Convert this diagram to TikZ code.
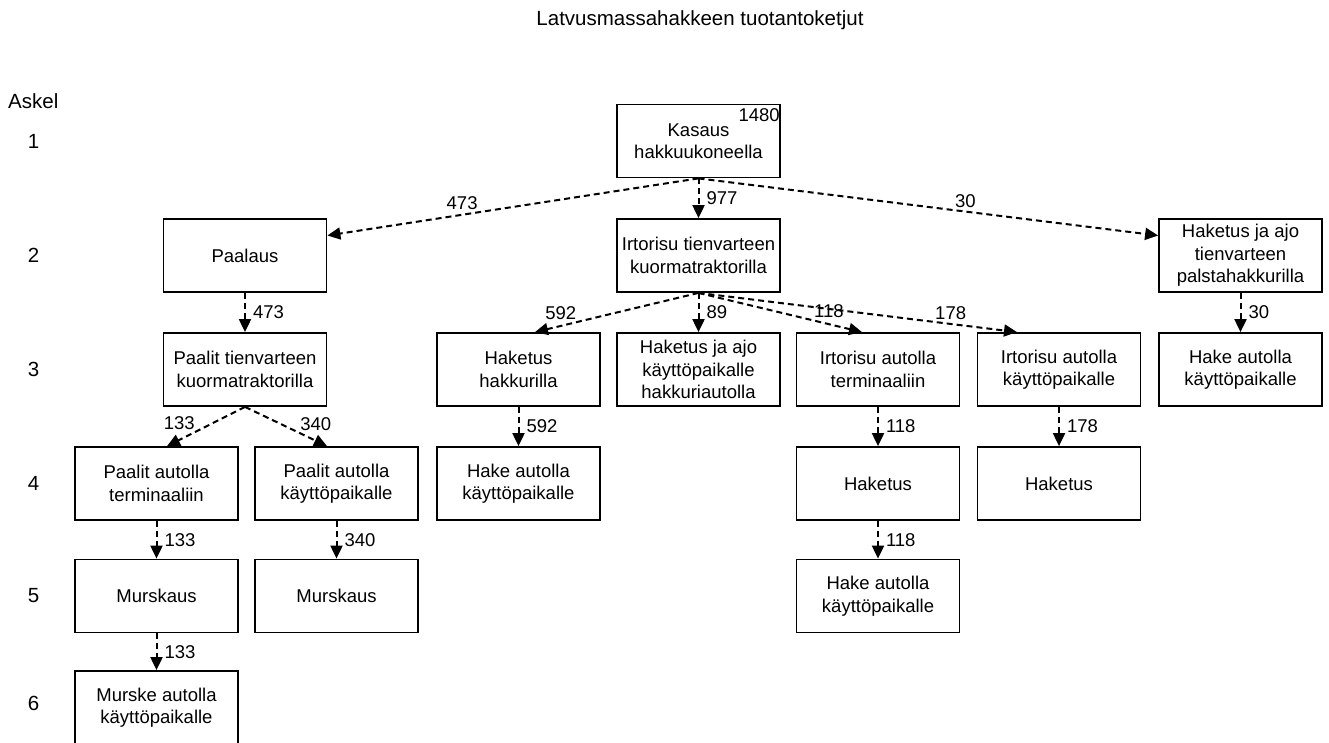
\documentclass[tikz,border=0pt]{standalone}
\usepackage{fontspec}
\setmainfont{Liberation Sans}
\usetikzlibrary{arrows.meta}

\newcommand{\boxfont}{\fontsize{18.5}{22.5}\selectfont}
\newcommand{\headfont}{\fontsize{20.5}{24}\selectfont}

\begin{document}
\begin{tikzpicture}[x=1pt, y=-1pt,
	stage/.style={draw, line width=1.8pt, minimum width=163pt, minimum height=73pt,
		inner sep=0pt, align=center, font=\boxfont},
	flow/.style={line width=2pt, dash pattern=on 6pt off 4pt,
		-{Triangle[width=12pt,length=13pt]}},
	num/.style={font=\boxfont, inner sep=1pt}]

	\useasboundingbox (0,0) rectangle (1329,742);

	% columns
	\def\xa{156.5} \def\xb{245} \def\xc{336.5} \def\xd{518.5}
	\def\xe{698.5} \def\xf{878} \def\xg{1059} \def\xh{1240.5}
	% rows
	\def\ya{141} \def\yb{255.5} \def\yc{369.5}
	\def\yd{483.5} \def\ye{596} \def\yf{707.5}

	% title and steps
	\node[font=\headfont, anchor=base] (title) at (700,25) {Latvusmassahakkeen tuotantoketjut};
	\node[font=\headfont, anchor=base west, inner sep=0pt] (askel) at (8,108) {Askel};
	\node[font=\headfont] (step1) at (33.5,\ya) {1};
	\node[font=\headfont] (step2) at (33.5,\yb) {2};
	\node[font=\headfont] (step3) at (33.5,\yc) {3};
	\node[font=\headfont] (step4) at (33.5,\yd) {4};
	\node[font=\headfont] (step5) at (33.5,\ye) {5};
	\node[font=\headfont] (step6) at (33.5,\yf-4) {6};

	% step 1
	\node[stage] (kasaus) at (\xe,\ya) {Kasaus\\hakkuukoneella};
	\node[num, anchor=north east, inner sep=0pt] (total)
	at ([xshift=-1pt,yshift=-5pt]kasaus.north east) {1480};

	% step 2
	\node[stage] (paalaus) at (\xb,\yb) {Paalaus};
	\node[stage] (irto) at (\xe,\yb) {Irtorisu tienvarteen\\kuormatraktorilla};
	\node[stage] (palsta) at (\xh,\yb) {Haketus ja ajo\\tienvarteen\\palstahakkurilla};

	% step 3
	\node[stage] (paalit) at (\xb,\yc) {Paalit tienvarteen\\kuormatraktorilla};
	\node[stage] (hakkuri) at (\xd,\yc) {Haketus\\hakkurilla};
	\node[stage] (hakkuriauto) at (\xe,\yc) {Haketus ja ajo\\käyttöpaikalle\\hakkuriautolla};
	\node[stage] (irtoterm) at (\xf,\yc) {Irtorisu autolla\\terminaaliin};
	\node[stage] (irtokaytto) at (\xg,\yc) {Irtorisu autolla\\käyttöpaikalle};
	\node[stage] (palstahake) at (\xh,\yc) {Hake autolla\\käyttöpaikalle};

	% step 4
	\node[stage] (paalitterm) at (\xa,\yd) {Paalit autolla\\terminaaliin};
	\node[stage] (paalitkaytto) at (\xc,\yd) {Paalit autolla\\käyttöpaikalle};
	\node[stage] (hakkurihake) at (\xd,\yd) {Hake autolla\\käyttöpaikalle};
	\node[stage] (termhaketus) at (\xf,\yd) {Haketus};
	\node[stage] (kayttohaketus) at (\xg,\yd) {Haketus};

	% step 5
	\node[stage] (murskaus) at (\xa,\ye) {Murskaus};
	\node[stage] (murskauskaytto) at (\xc,\ye) {Murskaus};
	\node[stage] (termhake) at (\xf,\ye) {Hake autolla\\käyttöpaikalle};

	% step 6
	\node[stage] (murske) at (\xa,\yf) {Murske autolla\\käyttöpaikalle};

	% flows 1 -> 2
	\draw[flow] (kasaus.south) -- ([yshift=20pt]paalaus.east)
	node[num, pos=0.59, above left] {473};
	\draw[flow] (kasaus.south) -- (irto.north)
	node[num, midway, right, xshift=6pt] {977};
	\draw[flow] (kasaus.south) -- ([yshift=20pt]palsta.west)
	node[num, pos=0.554, above right] {30};

	% flows 2 -> 3
	\draw[flow] (paalaus.south) -- (paalit.north)
	node[num, midway, right, xshift=6pt] {473};
	\draw[flow] (irto.south) -- ([xshift=16.5pt]hakkuri.north)
	node[num, pos=0.736, above left] {592};
	\draw[flow] (irto.south) -- (hakkuriauto.north)
	node[num, midway, right, xshift=6pt] {89};
	\draw[flow] (irto.south) -- ([xshift=-16pt]irtoterm.north)
	node[num, pos=0.695, above right] {118};
	\draw[flow] (irto.south) -- ([xshift=-42pt]irtokaytto.north)
	node[num, pos=0.737, above right] {178};
	\draw[flow] (palsta.south) -- (palstahake.north)
	node[num, midway, right, xshift=6pt] {30};

	% flows 3 -> 4
	\draw[flow] (paalit.south) -- ([xshift=10.5pt]paalitterm.north)
	node[num, pos=0.62, above left] {133};
	\draw[flow] (paalit.south) -- ([xshift=-9.5pt]paalitkaytto.north)
	node[num, pos=0.65, above right] {340};
	\draw[flow] (hakkuri.south) -- (hakkurihake.north)
	node[num, midway, right, xshift=6pt] {592};
	\draw[flow] (irtoterm.south) -- (termhaketus.north)
	node[num, midway, right, xshift=6pt] {118};
	\draw[flow] (irtokaytto.south) -- (kayttohaketus.north)
	node[num, midway, right, xshift=6pt] {178};

	% flows 4 -> 5
	\draw[flow] (paalitterm.south) -- (murskaus.north)
	node[num, midway, right, xshift=6pt] {133};
	\draw[flow] (paalitkaytto.south) -- (murskauskaytto.north)
	node[num, midway, right, xshift=6pt] {340};
	\draw[flow] (termhaketus.south) -- (termhake.north)
	node[num, midway, right, xshift=6pt] {118};

	% flows 5 -> 6
	\draw[flow] (murskaus.south) -- (murske.north)
	node[num, midway, right, xshift=6pt] {133};

\end{tikzpicture}
\end{document}
